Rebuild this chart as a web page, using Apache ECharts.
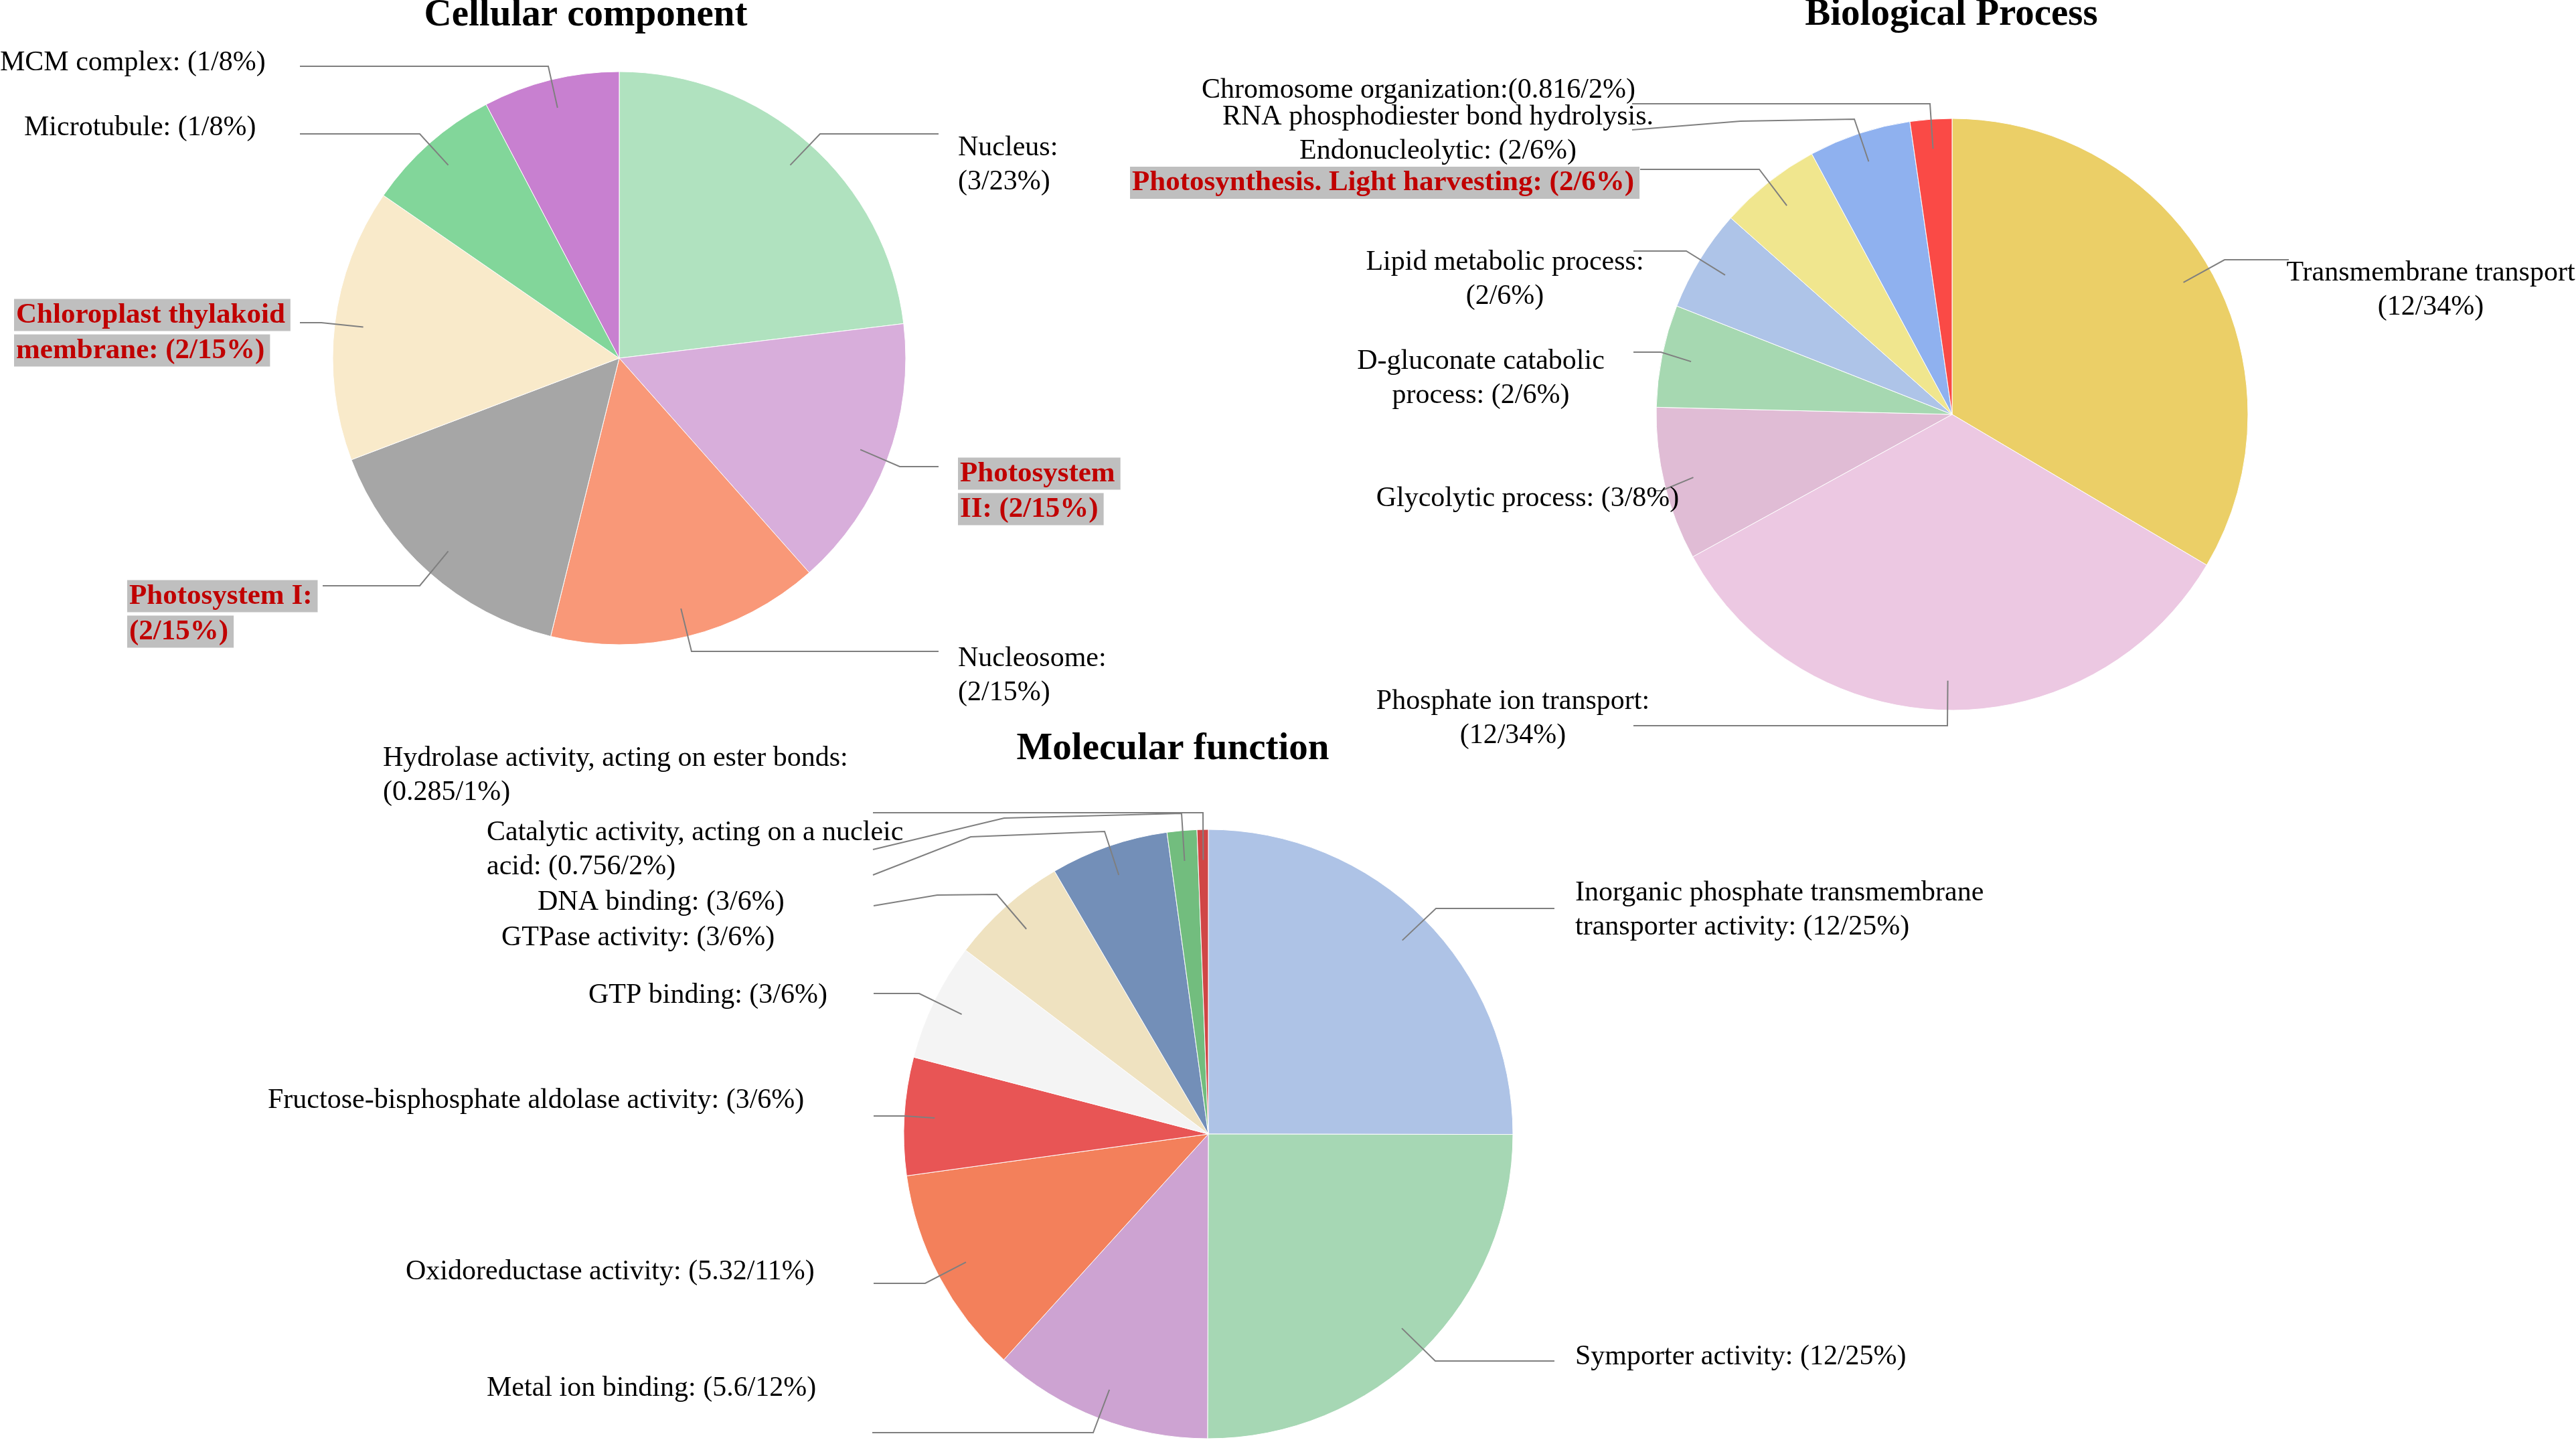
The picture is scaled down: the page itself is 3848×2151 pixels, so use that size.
<!DOCTYPE html>
<html><head><meta charset="utf-8">
<script src="https://cdn.jsdelivr.net/npm/echarts@6/dist/echarts.min.js"></script>
<style>html,body{margin:0;padding:0;background:#fff}#c{width:3848px;height:2151px}</style>
</head><body><div id="c"></div>
<script>
// ---------------- DATA ----------------
const ccNames = ['Nucleus','Photosystem II','Nucleosome','Photosystem I','Chloroplast thylakoid membrane','Microtubule','MCM complex'];
const ccValues = [3, 2, 2, 2, 2, 1, 1];
const ccLabels = ['Nucleus:\n{v}','Photosystem\nII: {v}','Nucleosome:\n{v}','Photosystem I:\n{v}','Chloroplast thylakoid\nmembrane: {v}','Microtubule: {v}','MCM complex: {v}'];
const ccHighlight = [false, true, false, true, true, false, false];

const bpNames = ['Transmembrane transport','Phosphate ion transport','Glycolytic process','D-gluconate catabolic process','Lipid metabolic process','Photosynthesis. Light harvesting','RNA phosphodiester bond hydrolysis. Endonucleolytic','Chromosome organization'];
const bpValues = [12, 12, 3, 2, 2, 2, 2, 0.816];
const bpLabels = ['Transmembrane transport\n{v}','Phosphate ion transport:\n{v}','Glycolytic process: {v}','D-gluconate catabolic\nprocess: {v}','Lipid metabolic process:\n{v}','Photosynthesis. Light harvesting: {v}','RNA phosphodiester bond hydrolysis.\nEndonucleolytic: {v}','Chromosome organization:{v}'];
const bpHighlight = [false, false, false, false, false, true, false, false];

const mfNames = ['Inorganic phosphate transmembrane transporter activity','Symporter activity','Metal ion binding','Oxidoreductase activity','Fructose-bisphosphate aldolase activity','GTP binding','GTPase activity','DNA binding','Catalytic activity, acting on a nucleic acid','Hydrolase activity, acting on ester bonds'];
const mfValues = [12, 12, 5.6, 5.32, 3, 3, 3, 3, 0.756, 0.285];
const mfLabels = ['Inorganic phosphate transmembrane\ntransporter activity: {v}','Symporter activity: {v}','Metal ion binding: {v}','Oxidoreductase activity: {v}','Fructose-bisphosphate aldolase activity: {v}','GTP binding: {v}','GTPase activity: {v}','DNA binding: {v}','Catalytic activity, acting on a nucleic\nacid: {v}','Hydrolase activity, acting on ester bonds:\n{v}'];
const mfHighlight = [false, false, false, false, false, false, false, false, false, false];

const titles = ['Cellular component', 'Biological Process', 'Molecular function'];

// ---------------- STYLE / LAYOUT ----------------
const ccColors = ['#b0e2bf','#d8aedb','#f99878','#a6a6a6','#f9eaca','#82d69a','#c880d0'];
const bpColors = ['#ebcf67','#ecc8e2','#e0bcd5','#a6d8b1','#aec4e8','#f0e68e','#8fb1ef','#fa4a46'];
const mfColors = ['#aec3e6','#a6d7b4','#cda3d2','#f3805b','#e85555','#f4f4f4','#efe2c0','#738fb8','#72bd7e','#d04646'];

const ccGeom = {center: [925, 535], r: 428};
const bpGeom = {center: [2916, 619], r: 442};
const mfGeom = {center: [1805, 1694], r: 455};

const ccPos = [
  {x:1431, y:246, align:'left', line:[[1225,200],[1402,200]]},
  {x:1431, y:734, align:'left', line:[[1344,697],[1402,697]]},
  {x:1431, y:1009, align:'left', line:[[1033,973],[1402,973]]},
  {x:190, y:917, align:'left', line:[[627,875],[482,875]]},
  {x:21, y:497, align:'left', line:[[480,482],[448,482]]},
  {x:36, y:191, align:'left', line:[[627,200],[448,200]]},
  {x:0, y:94, align:'left', line:[[819,99],[448,99]]}
];
const bpPos = [
  {x:3631, y:433, align:'center', line:[[3323,388],[3419,388]]},
  {x:2260, y:1073, align:'center', line:[[2909,1084],[2440,1084]]},
  {x:2282, y:745, align:'center', line:[[2482,733],[2470,733]]},
  {x:2212, y:565, align:'center', line:[[2481,526],[2440,526]]},
  {x:2248, y:417, align:'center', line:[[2519,375],[2440,375]]},
  {x:1688, y:273, align:'left', line:[[2628,253],[2450,253]]},
  {x:2148, y:200, align:'center', line:[[2770,178],[2600,181],[2438,194]]},
  {x:2119, y:135, align:'center', line:[[2883,155],[2438,155]]}
];
const mfPos = [
  {x:2353, y:1359, align:'left', line:[[2145,1357],[2322,1357]]},
  {x:2353, y:2027, align:'left', line:[[2144,2033],[2322,2033]]},
  {x:727, y:2074, align:'left', line:[[1633,2140],[1303,2140]]},
  {x:606, y:1900, align:'left', line:[[1382,1917],[1305,1917]]},
  {x:400, y:1644, align:'left', line:[[1351,1667],[1305,1667]]},
  {x:879, y:1487, align:'left', line:[[1373,1484],[1305,1484]]},
  {x:749, y:1401, align:'left', line:[[1489,1336],[1400,1337],[1305,1353]]},
  {x:803, y:1348, align:'left', line:[[1650,1242],[1450,1250],[1304,1307]]},
  {x:727, y:1269, align:'left', line:[[1765,1215],[1500,1222],[1304,1269]]},
  {x:572, y:1158, align:'left', line:[[1797,1214],[1304,1214]]}
];

const FONT = '"Liberation Serif", "Times New Roman", serif';
const RICH = {
  n: {fontFamily: FONT, fontSize: 42, lineHeight: 51, color: '#000'},
  h: {fontFamily: FONT, fontSize: 43, fontWeight: 'bold', lineHeight: 53, height: 48,
      color: '#c00000', backgroundColor: '#bfbfbf', padding: [0, 8, 0, 3]}
};

function makeFormatter(values, labels, hl) {
  const total = values.reduce((a, b) => a + b, 0);
  return function (p) {
    const i = p.dataIndex;
    const v = '(' + values[i] + '/' + Math.round(values[i] / total * 100) + '%)';
    const txt = labels[i].replace('{v}', v);
    const st = hl[i] ? 'h' : 'n';
    return txt.split('\n').map(l => '{' + st + '|' + l + '}').join('\n');
  };
}

function makeLayout(values, geom, pos) {
  const total = values.reduce((a, b) => a + b, 0);
  const mids = []; let acc = 0;
  values.forEach(v => { mids.push((acc + v / 2) / total * 2 * Math.PI); acc += v; });
  return function (params) {
    const i = params.dataIndex, p = pos[i], a = mids[i];
    const start = [geom.center[0] + 0.9 * geom.r * Math.sin(a), geom.center[1] - 0.9 * geom.r * Math.cos(a)];
    return {x: p.x, y: p.y, align: p.align, verticalAlign: 'middle', labelLinePoints: [start].concat(p.line)};
  };
}

// Base pie: coloured sectors only
function makeBase(names, values, colors, geom) {
  return {
    type: 'pie', silent: true, animation: false, z: 2,
    center: geom.center, radius: [0, geom.r], startAngle: 90, clockwise: true,
    emphasis: {disabled: true},
    itemStyle: {borderColor: '#ffffff', borderWidth: 1},
    data: names.map((n, i) => ({name: n, value: values[i], itemStyle: {color: colors[i]}})),
    label: {show: false}, labelLine: {show: false}
  };
}
// Overlay pie (same data, transparent sectors) carrying labels and leader lines above the fill
function makeOverlay(names, values, labels, hl, geom, pos) {
  return {
    type: 'pie', silent: true, animation: false, z: 5,
    center: geom.center, radius: [0, geom.r], startAngle: 90, clockwise: true,
    avoidLabelOverlap: false,
    emphasis: {disabled: true},
    itemStyle: {color: 'rgba(0,0,0,0)', borderWidth: 0},
    data: names.map((n, i) => ({name: n, value: values[i]})),
    label: {show: true, position: 'outside', overflow: 'none', color: '#000',
            fontFamily: FONT, fontSize: 42, lineHeight: 51,
            formatter: makeFormatter(values, labels, hl), rich: RICH},
    labelLine: {show: true, length: 10, length2: 10, smooth: false,
                lineStyle: {color: '#7f7f7f', width: 2}},
    labelLayout: makeLayout(values, geom, pos)
  };
}

const chart = echarts.init(document.getElementById('c'), null, {renderer: 'canvas'});
const titlePos = [[875, 23], [2915, 22], [1752, 1119]];
chart.setOption({
  backgroundColor: '#ffffff',
  animation: false,
  graphic: titles.map((t, i) => ({
    type: 'text', x: titlePos[i][0], y: titlePos[i][1], silent: true,
    style: {text: t, fontFamily: FONT, fontSize: 57, fontWeight: 'bold', fill: '#000',
            align: 'center', verticalAlign: 'middle'}
  })),
  series: [
    makeBase(ccNames, ccValues, ccColors, ccGeom),
    makeBase(bpNames, bpValues, bpColors, bpGeom),
    makeBase(mfNames, mfValues, mfColors, mfGeom),
    makeOverlay(ccNames, ccValues, ccLabels, ccHighlight, ccGeom, ccPos),
    makeOverlay(bpNames, bpValues, bpLabels, bpHighlight, bpGeom, bpPos),
    makeOverlay(mfNames, mfValues, mfLabels, mfHighlight, mfGeom, mfPos)
  ]
});
</script>
</body></html>
